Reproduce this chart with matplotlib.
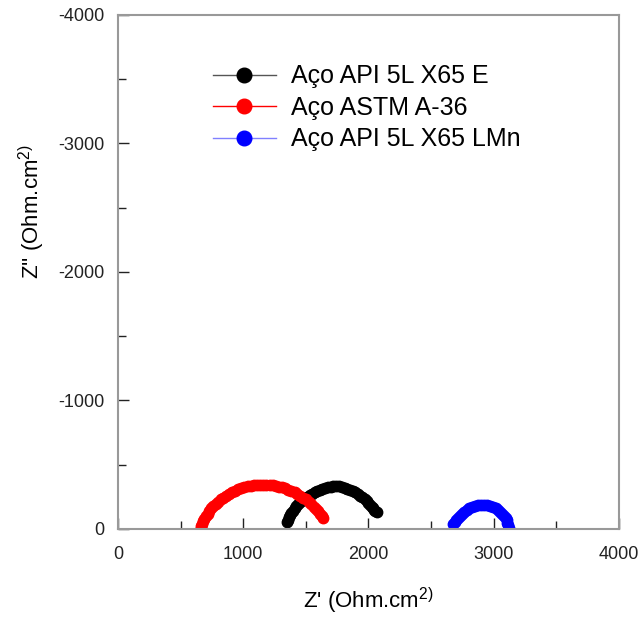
import matplotlib
matplotlib.use("Agg")
import matplotlib.pyplot as plt
from matplotlib.ticker import MultipleLocator

plt.rcParams["font.family"] = ["Liberation Sans", "DejaVu Sans"]
plt.rcParams["mathtext.default"] = "regular"
plt.rcParams["axes.unicode_minus"] = False

# Nyquist data: Z' and -Z'' (Ohm.cm2)
x65e_zr = [1347, 1355, 1365, 1375, 1385, 1397, 1410, 1425, 1440, 1457, 1475, 1492, 1510, 1530,
           1550, 1570, 1590, 1610, 1630, 1652, 1675, 1697, 1720, 1742, 1765, 1787, 1810, 1832,
           1855, 1875, 1895, 1915, 1935, 1952, 1970, 1985, 2000, 2013, 2025, 2035, 2045, 2055, 2065]
x65e_zi = [57, 73, 90, 107, 125, 142, 160, 178, 195, 210, 225, 238, 250, 263,
           275, 286, 297, 305, 313, 319, 325, 329, 333, 333, 332, 328, 322, 314,
           306, 296, 285, 273, 260, 246, 232, 216, 200, 185, 170, 160, 150, 140, 130]

a36_zr = [660, 665, 672, 680, 690, 702, 715, 730, 745, 762, 780, 800, 820, 842, 865, 887,
          910, 935, 960, 985, 1010, 1035, 1060, 1085, 1110, 1135, 1160, 1185, 1210, 1235,
          1260, 1285, 1310, 1335, 1360, 1385, 1410, 1432, 1455, 1478, 1500, 1522, 1545,
          1565, 1585, 1600, 1615, 1628, 1640]
a36_zi = [5, 22, 40, 60, 80, 100, 120, 140, 160, 178, 195, 213, 230, 245, 260, 273,
          285, 297, 308, 317, 325, 331, 337, 341, 344, 345, 346, 345, 343, 340,
          336, 330, 324, 316, 307, 297, 285, 273, 260, 245, 230, 213, 195,
          175, 155, 138, 120, 102, 85]

x65lmn_zr = [2677, 2688, 2700, 2715, 2730, 2747, 2765, 2785, 2805, 2827, 2850, 2875, 2900, 2925,
             2950, 2972, 2995, 3015, 3035, 3053, 3070, 3083, 3095, 3103, 3110, 3116, 3122]
x65lmn_zi = [40, 55, 70, 88, 105, 120, 135, 148, 160, 170, 178, 184, 188, 187,
             185, 179, 172, 162, 150, 136, 120, 103, 85, 68, 50, 30, 10]

labels = ["Aço API 5L X65 E", "Aço ASTM A-36", "Aço API 5L X65 LMn"]

fig = plt.figure(figsize=(6.38, 6.19), dpi=100)
ax = fig.add_axes([0.185, 0.1454, 0.785, 0.8304])

ax.plot(x65e_zr, [-v for v in x65e_zi], "o-", color="black", mfc="black", mec="black",
        ms=7.5, lw=1, label=labels[0])
ax.plot(a36_zr, [-v for v in a36_zi], "o-", color="red", mfc="red", mec="red",
        ms=7.5, lw=1, label=labels[1])
ax.plot(x65lmn_zr, [-v for v in x65lmn_zi], "o-", color="blue", mfc="blue", mec="blue",
        ms=7.5, lw=1, label=labels[2])

ax.set_xlim(0, 4000)
ax.set_ylim(0, -4000)
ax.xaxis.set_major_locator(MultipleLocator(1000))
ax.xaxis.set_minor_locator(MultipleLocator(500))
ax.yaxis.set_major_locator(MultipleLocator(1000))
ax.yaxis.set_minor_locator(MultipleLocator(500))
ax.tick_params(which="both", direction="in", top=False, right=False, colors="#222222",
               labelsize=13)
ax.tick_params(which="major", length=8, width=1)
ax.tick_params(which="minor", length=6, width=1)
ax.tick_params(axis="y", pad=10)
ax.tick_params(axis="x", pad=12)
for sp in ax.spines.values():
    sp.set_color("#999999")
    sp.set_linewidth(1.5)

ax.set_xlabel("Z' (Ohm.cm$^{2)}$", fontsize=16, labelpad=17)
ax.set_ylabel("Z'' (Ohm.cm$^{2)}$", fontsize=16)
ax.yaxis.set_label_coords(-0.142, 0.617)

handles, _ = ax.get_legend_handles_labels()
leg = ax.legend(handles, labels, loc="upper left", bbox_to_anchor=(0.19, 0.904),
                frameon=False, fontsize=18, handlelength=2.5, handletextpad=0.6,
                labelspacing=0.3, borderaxespad=0, borderpad=0, markerscale=1.4)
for h in leg.legend_handles:
    h.set_linewidth(1)
leg.legend_handles[0].set_color("#555555")
leg.legend_handles[0].set_markerfacecolor("black")
leg.legend_handles[0].set_markeredgecolor("black")
leg.legend_handles[2].set_color("#8080ff")
leg.legend_handles[2].set_markerfacecolor("blue")
leg.legend_handles[2].set_markeredgecolor("blue")

fig.savefig("out.png", dpi=100)
